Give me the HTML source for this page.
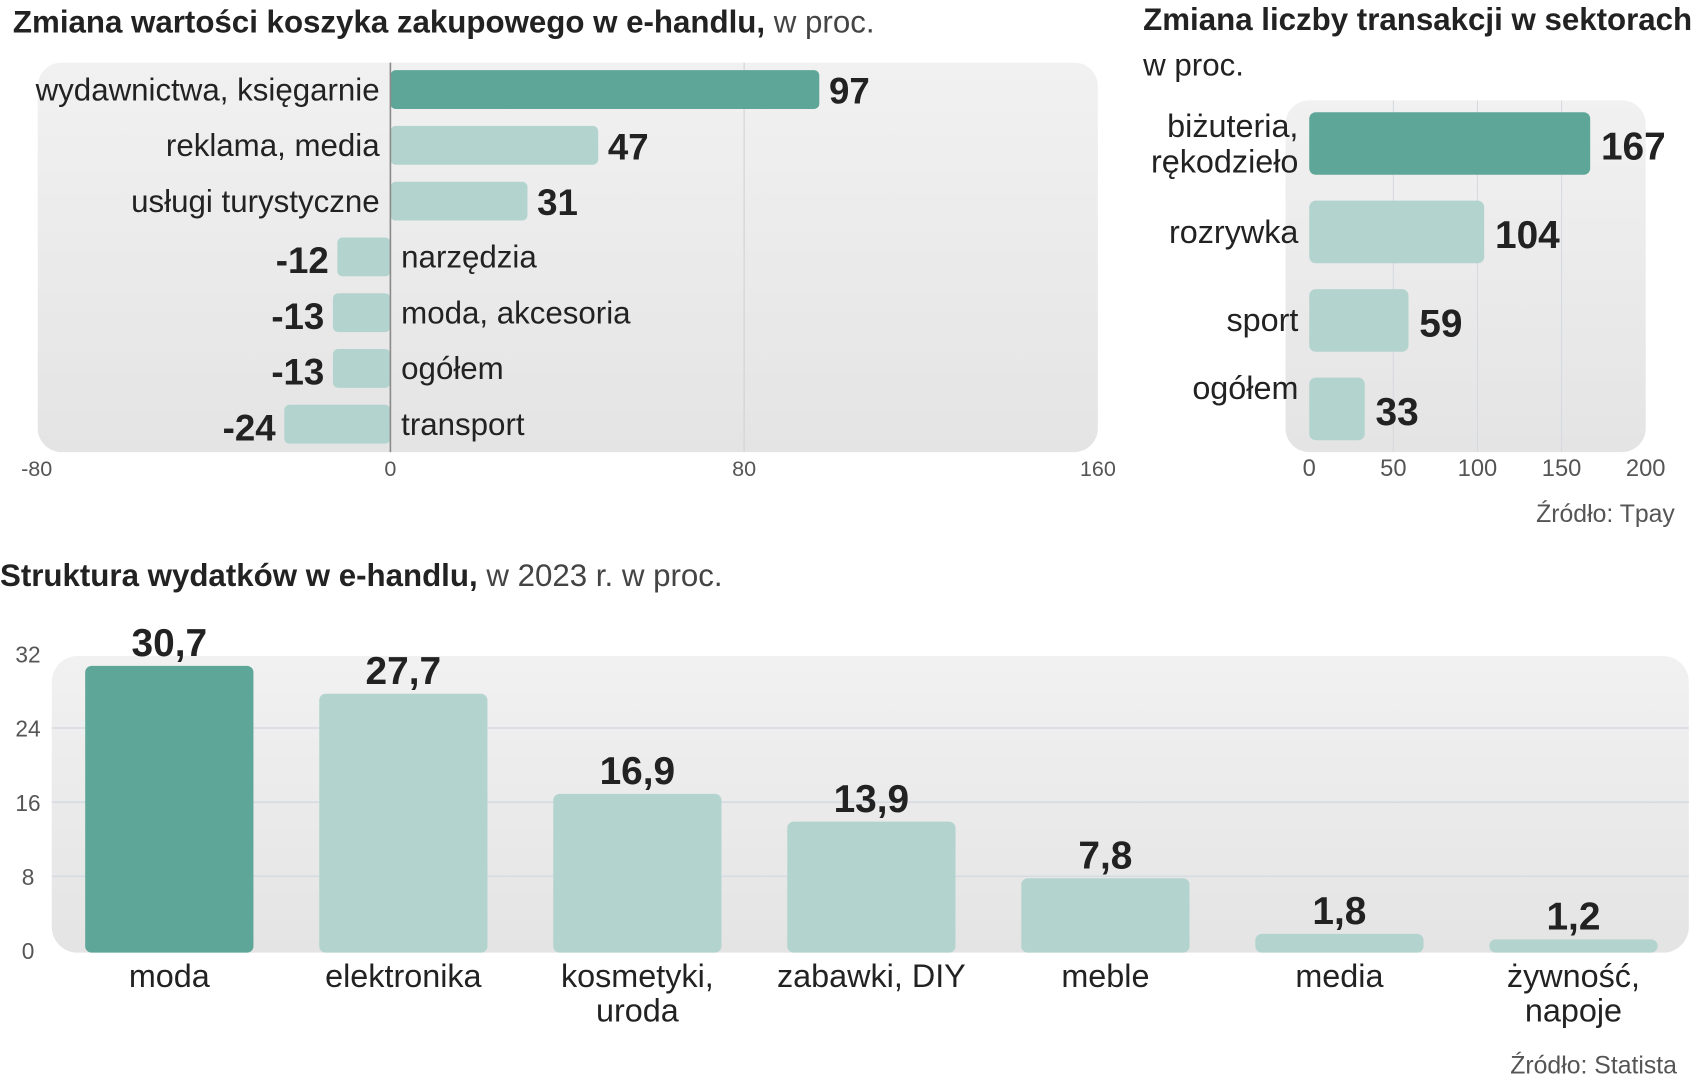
<!DOCTYPE html>
<html><head><meta charset="utf-8"><style>
html,body{margin:0;padding:0;background:#fff;}
svg{display:block;}
text{font-family:"Liberation Sans Narrow","Liberation Sans",sans-serif;fill:#222;}
.b{font-weight:bold;}
.t{fill:#555;}
</style></head><body>
<svg id="c" width="1691" height="1080" viewBox="0 0 1568 1001" preserveAspectRatio="none" xmlns="http://www.w3.org/2000/svg">
<defs><linearGradient id="pg" x1="0" y1="0" x2="0" y2="1"><stop offset="0" stop-color="#f1f1f1"/><stop offset="1" stop-color="#e4e4e4"/></linearGradient></defs>
</svg>
<script>
const c1Cats=["wydawnictwa, księgarnie","reklama, media","usługi  turystyczne","narzędzia","moda, akcesoria","ogółem","transport"];
const c1Vals=[97,47,31,-12,-13,-13,-24];
const c1Ticks=[-80,0,80,160];
const c2Cats=[["biżuteria,","rękodzieło"],["rozrywka"],["sport"],["ogółem"]];
const c2Vals=[167,104,59,33];
const c2Ticks=[0,50,100,150,200];
const c3Cats=[["moda"],["elektronika"],["kosmetyki,","uroda"],["zabawki, DIY"],["meble"],["media"],["żywność,","napoje"]];
const c3Vals=[30.7,27.7,16.9,13.9,7.8,1.8,1.2];
const c3Labels=["30,7","27,7","16,9","13,9","7,8","1,8","1,2"];
const c3Ticks=[0,8,16,24,32];

const svg=document.getElementById('c');
const NS="http://www.w3.org/2000/svg";
function el(tag,attrs,txt){const e=document.createElementNS(NS,tag);for(const k in attrs)e.setAttribute(k,attrs[k]);if(txt!==undefined)e.textContent=txt;svg.appendChild(e);return e;}
const DARK="#5ea698",LIGHT="#b3d4ce";

let t=el('text',{x:12,y:30,'font-size':29});


t.innerHTML='<tspan font-weight="bold">Zmiana wartości koszyka zakupowego w e-handlu,</tspan><tspan fill="#444"> w proc.</tspan>';
t=el('text',{x:1060,y:28,'font-size':29,'font-weight':'bold'},'Zmiana liczby transakcji w sektorach');


t=el('text',{x:1060,y:70,'font-size':29,fill:'#444'},'w proc.');


t=el('text',{x:0,y:543,'font-size':29});


t.innerHTML='<tspan font-weight="bold">Struktura wydatków w e-handlu,</tspan><tspan fill="#444"> w 2023 r. w proc.</tspan>';

// ---- chart 1 ----
const x1=v=>362+(v)*(328/80);
let p=el('rect',{x:35,y:58,width:983,height:361,rx:22,fill:'url(#pg)'});


let g=el('line',{x1:x1(80),x2:x1(80),y1:58,y2:419,stroke:'#d2d2d2','stroke-width':1});


c1Ticks.forEach(v=>{const tx=el('text',{x:x1(v),y:441,'font-size':20,'text-anchor':'middle',class:'t','font-family':'Liberation Sans'},String(v));

});
c1Vals.forEach((v,i)=>{
 const cy=83+i*51.7;
 const a=Math.min(x1(0),x1(v)),w=Math.abs(x1(v)-x1(0));
 const r=el('rect',{x:a,y:cy-18,width:w,height:36,rx:5,fill:i==0?DARK:LIGHT});
 
 
 let lab,val;
 if(v>=0){
  lab=el('text',{x:352,y:cy+10,'font-size':29,'text-anchor':'end'},c1Cats[i]);
  val=el('text',{x:x1(v)+9,y:cy+13,'font-size':34,class:'b'},String(v));
 }else{
  lab=el('text',{x:372,y:cy+10,'font-size':29},c1Cats[i]);
  val=el('text',{x:x1(v)-8,y:cy+15,'font-size':34,class:'b','text-anchor':'end'},String(v));
 }
 
 
 
 
});
let ax=el('line',{x1:x1(0),x2:x1(0),y1:58,y2:419,stroke:'#8a8a8a','stroke-width':1.5});



// ---- chart 2 ----
const x2=v=>1214+v*(312/200);
p=el('rect',{x:1192,y:93,width:334,height:326,rx:22,fill:'url(#pg)'});


[50,100,150].forEach(v=>{const l=el('line',{x1:x2(v),x2:x2(v),y1:93,y2:419,stroke:'#d6d9de','stroke-width':1});

});
c2Ticks.forEach(v=>{const tx=el('text',{x:x2(v),y:441,'font-size':22,'text-anchor':'middle',class:'t','font-family':'Liberation Sans'},String(v));

});
c2Vals.forEach((v,i)=>{
 const cy=133+i*82;
 const r=el('rect',{x:x2(0),y:cy-29,width:x2(v)-x2(0),height:58,rx:6,fill:i==0?DARK:LIGHT});
 
 
 const lines=c2Cats[i];
 lines.forEach((s,j)=>{
  const yy=lines.length==1?(i==3?cy-9:cy+10):cy-6+j*33;
  const lab=el('text',{x:1204,y:yy,'font-size':30,'text-anchor':'end'},s);
  
  
 });
 const val=el('text',{x:x2(v)+10,y:cy+15,'font-size':36,class:'b'},String(v));
 
 
});
t=el('text',{x:1553,y:484,'font-size':23,'text-anchor':'end',class:'t','font-family':'Liberation Sans'},'Źródło: Tpay');



// ---- chart 3 ----
const y3=v=>881-v*(275/32);
p=el('rect',{x:48,y:608,width:1518,height:275,rx:24,fill:'url(#pg)'});


[8,16,24].forEach(v=>{const l=el('line',{x1:48,x2:1566,y1:y3(v),y2:y3(v),stroke:'#d6dbe2','stroke-width':1.5});

});
c3Ticks.forEach(v=>{const tx=el('text',{x:26,y:y3(v)+8,'font-size':21,'text-anchor':'middle',class:'t','font-family':'Liberation Sans'},String(v));

});
c3Vals.forEach((v,i)=>{
 const cx=157+i*217;
 const r=el('rect',{x:cx-78,y:y3(v),width:156,height:y3(0)-y3(v)+2,rx:6,fill:i==0?DARK:LIGHT});
 
 
 const val=el('text',{x:cx,y:y3(v)-9,'font-size':36,class:'b','text-anchor':'middle'},c3Labels[i]);
 
 
 c3Cats[i].forEach((s,j)=>{
  const lab=el('text',{x:cx,y:915+j*32,'font-size':30,'text-anchor':'middle'},s);
  
  
 });
});
t=el('text',{x:1555,y:995,'font-size':23,'text-anchor':'end',class:'t','font-family':'Liberation Sans'},'Źródło: Statista');


</script>
</body></html>
